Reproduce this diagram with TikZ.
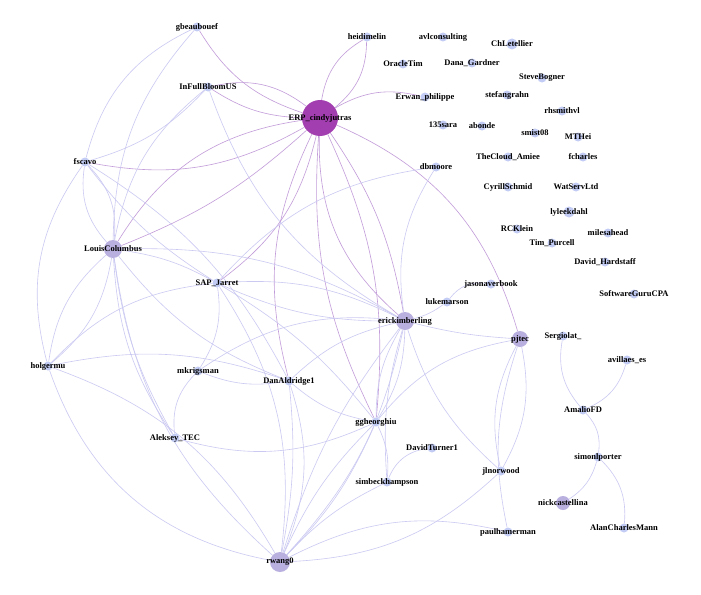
\documentclass[tikz,border=0pt]{standalone}
\usepackage{fontspec}
\setmainfont{Liberation Serif}
\definecolor{erpc}{HTML}{A23EAF}
\definecolor{nodeblue}{HTML}{C2CCF4}
\definecolor{nodelav}{HTML}{BAB0DF}
\definecolor{edgeblue}{HTML}{CBC9F2}
\definecolor{edgepurple}{HTML}{C29CD9}
\pgfdeclarelayer{background}
\pgfsetlayers{background,main}
\tikzset{
  nd/.style={circle, inner sep=0pt, minimum size=9pt, fill=nodeblue},
  bnd/.style={circle, inner sep=0pt, fill=nodelav},
  every label/.style={font=\bfseries\fontsize{8.5}{9}\selectfont, inner sep=0pt, text=black},
  eb/.style={draw=edgeblue, line width=0.6pt},
  ep/.style={draw=edgepurple, line width=0.6pt},
}
\begin{document}
\begin{tikzpicture}[x=1pt,y=1pt]
\useasboundingbox (0,0) rectangle (701,-594);
% nodes
\node[nd,label=center:gbeaubouef] (gbe) at (197,-27) {};
\node[nd,label=center:InFullBloomUS] (ifb) at (208,-87) {};
\node[bnd,minimum size=36pt,fill=erpc,label=center:ERP\_cindyjutras] (erp) at (320,-118) {};
\node[nd,label=center:heidimelin] (hei) at (367,-37) {};
\node[nd,label=center:avlconsulting] (avl) at (443,-37) {};
\node[nd,minimum size=11pt,label=center:ChLetellier] (chl) at (512,-44) {};
\node[nd,label=center:OracleTim] (ora) at (403,-64) {};
\node[nd,label=center:Dana\_Gardner] (dana) at (472,-63) {};
\node[nd,label=center:SteveBogner] (stb) at (542,-78) {};
\node[nd,label=center:Erwan\_philippe] (erw) at (425,-97) {};
\node[nd,label=center:stefangrahn] (stf) at (507,-95) {};
\node[nd,label=center:rhsmithvl] (rhs) at (562,-111) {};
\node[nd,label=center:135sara] (sara) at (443,-125) {};
\node[nd,label=center:abonde] (abo) at (482,-126) {};
\node[nd,label=center:smist08] (smi) at (535,-133) {};
\node[nd,label=center:MTHei] (mth) at (578,-137) {};
\node[nd,label=center:TheCloud\_Amiee] (tca) at (508,-157) {};
\node[nd,label=center:fcharles] (fch) at (583,-157) {};
\node[nd,label=center:dbmoore] (dbm) at (436,-167) {};
\node[nd,label=center:CyrillSchmid] (cys) at (508,-187) {};
\node[nd,label=center:WatServLtd] (wat) at (576,-187) {};
\node[nd,minimum size=11pt,label=center:lyleekdahl] (lyl) at (569,-212) {};
\node[nd,label=center:RCKlein] (rck) at (517,-229) {};
\node[nd,label=center:milesahead] (mil) at (608,-233) {};
\node[nd,label=center:Tim\_Purcell] (tim) at (552,-243) {};
\node[nd,label=center:David\_Hardstaff] (dhs) at (605,-262) {};
\node[nd,label=center:jasonaverbook] (jas) at (491,-284) {};
\node[nd,label=center:SoftwareGuruCPA] (sgc) at (634,-294) {};
\node[nd,label=center:lukemarson] (luk) at (447,-302) {};
\node[bnd,minimum size=18pt,label=center:erickimberling] (eri) at (405,-321) {};
\node[nd,label=center:SAP\_Jarret] (sap) at (217,-283) {};
\node[nd,label=center:mkrigsman] (mkr) at (198,-371) {};
\node[nd,label=center:DanAldridge1] (dan) at (289,-381) {};
\node[bnd,minimum size=16pt,label=center:pjtec] (pjt) at (520,-339) {};
\node[nd,label=center:Sergiolat\_] (ser) at (563,-336) {};
\node[nd,label=center:avillaes\_es] (avi) at (627,-360) {};
\node[nd,label=center:AmalioFD] (ama) at (583,-410) {};
\node[nd,label=center:simonlporter] (sim) at (598,-457) {};
\node[bnd,minimum size=14pt,label=center:nickcastellina] (nic) at (563,-503) {};
\node[nd,label=center:AlanCharlesMann] (acm) at (624,-528) {};
\node[nd,label=center:jlnorwood] (jln) at (501,-471) {};
\node[nd,label=center:paulhamerman] (pau) at (508,-532) {};
\node[nd,label=center:DavidTurner1] (dtu) at (432,-448) {};
\node[nd,label=center:ggheorghiu] (ggh) at (376,-422) {};
\node[nd,label=center:simbeckhampson] (smb) at (387,-482) {};
\node[bnd,minimum size=20pt,label=center:rwang0] (rwa) at (280,-562) {};
\node[nd,label=center:holgermu] (hol) at (48,-366) {};
\node[nd,label=center:Aleksey\_TEC] (ale) at (175,-438) {};
\node[nd,label=center:fscavo] (fsc) at (85,-162) {};
\node[bnd,minimum size=18pt,label=center:LouisColumbus] (lou) at (113,-249) {};
% edges
\begin{pgfonlayer}{background}
\fill[white] (0,0) rectangle (701,-594);
% purple edges (ERP_cindyjutras)
\draw[ep] (erp) to[bend left=20] (gbe);
\draw[ep] (ifb) to[bend left=25] (erp);
\draw[ep] (erp) to[bend left=15] (ifb);
\draw[ep] (erp) to[bend left=25] (hei);
\draw[ep] (hei) to[bend left=25] (erp);
\draw[ep] (erp) to[bend left=22] (erw);
\draw[ep] (erp) to[bend left=20] (fsc);
\draw[ep] (lou) to[bend left=25] (erp);
\draw[ep] (erp) to[bend left=10] (lou);
\draw[ep] (erp) to[bend left=20] (sap);
\draw[ep] (dan) to[bend left=20] (erp);
\draw[ep] (ggh) to[bend left=15] (erp);
\draw[ep] (eri) to[bend left=25] (erp);
\draw[ep] (erp) to[bend left=12] (eri);
\draw[ep] (erp) to[bend left=15] (ggh);
\draw[ep] (erp) to[bend left=25] (pjt);
% blue edges
\draw[eb] (fsc) to[bend left=25] (gbe);
\draw[eb] (ifb) to[bend left=15] (fsc);
\draw[eb] (lou) to[bend left=20] (gbe);
\draw[eb] (lou) to[bend left=20] (ifb);
\draw[eb] (eri) to[bend left=20] (ifb);
\draw[eb] (fsc) to[bend left=25] (lou);
\draw[eb] (lou) to[bend left=25] (fsc);
\draw[eb] (sap) to[bend left=10] (fsc);
\draw[eb] (fsc) to[bend left=15] (dan);
\draw[eb] (hol) to[bend left=25] (fsc);
\draw[eb] (lou) to[bend left=20] (hol);
\draw[eb] (hol) to[bend left=20] (lou);
\draw[eb] (lou) to[bend left=10] (sap);
\draw[eb] (ale) to[bend left=15] (lou);
\draw[eb] (ale) to[bend left=11] (lou);
\draw[eb] (rwa) to[bend left=20] (lou);
\draw[eb] (dan) to[bend left=15] (lou);
\draw[eb] (lou) to[bend left=15] (eri);
\draw[eb] (hol) to[bend left=20] (sap);
\draw[eb] (hol) to[bend left=15] (dan);
\draw[eb] (rwa) to[bend left=30] (hol);
\draw[eb] (hol) to[bend left=20] (rwa);
\draw[eb] (sap) to[bend left=15] (eri);
\draw[eb] (eri) to[bend left=12] (sap);
\draw[eb] (sap) to[bend left=20] (mkr);
\draw[eb] (sap) to[bend left=20] (rwa);
\draw[eb] (sap) to[bend left=10] (ggh);
\draw[eb] (mkr) to[bend left=20] (eri);
\draw[eb] (dan) to[bend left=15] (mkr);
\draw[eb] (ale) to[bend left=25] (mkr);
\draw[eb] (ggh) to[bend left=20] (ale);
\draw[eb] (dan) to[bend left=15] (eri);
\draw[eb] (ggh) to[bend left=15] (dan);
\draw[eb] (dan) to[bend left=20] (rwa);
\draw[eb] (dan) to[bend left=8] (rwa);
\draw[eb] (eri) to[bend left=15] (ggh);
\draw[eb] (ggh) to[bend left=15] (eri);
\draw[eb] (smb) to[bend left=10] (eri);
\draw[eb] (jln) to[bend left=15] (eri);
\draw[eb] (pjt) to[bend left=5] (eri);
\draw[eb] (luk) to[bend left=10] (eri);
\draw[eb] (luk) to[bend left=30] (jas);
\draw[eb] (eri) to[bend left=15] (rwa);
\draw[eb] (rwa) to[bend left=10] (eri);
\draw[eb] (eri) to[bend left=20] (dbm);
\draw[eb] (sap) to[bend left=20] (dbm);
\draw[eb] (ggh) to[bend left=20] (pjt);
\draw[eb] (ggh) to[bend left=10] (rwa);
\draw[eb] (rwa) to[bend left=10] (ggh);
\draw[eb] (ggh) to[bend left=15] (smb);
\draw[eb] (smb) to[bend left=30] (dtu);
\draw[eb] (jln) to[bend left=20] (pjt);
\draw[eb] (pjt) to[bend left=20] (jln);
\draw[eb] (jln) to[bend left=20] (rwa);
\draw[eb] (rwa) to[bend left=20] (pau);
\draw[eb] (pau) to[bend left=15] (pjt);
\draw[eb] (rwa) to[bend left=10] (smb);
\draw[eb] (ama) to[bend left=25] (ser);
\draw[eb] (avi) to[bend left=25] (ama);
\draw[eb] (ama) to[bend left=25] (sim);
\draw[eb] (sim) to[bend left=20] (nic);
\draw[eb] (sim) to[bend left=25] (acm);
\end{pgfonlayer}
\end{tikzpicture}
\end{document}
